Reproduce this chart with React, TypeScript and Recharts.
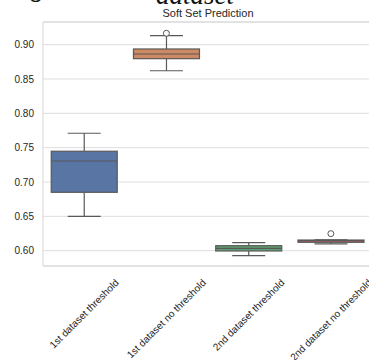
import React from 'react';
import {
  ComposedChart,
  Bar,
  Line,
  XAxis,
  YAxis,
  CartesianGrid,
  ReferenceArea,
} from 'recharts';

const categories = [
  '1st dataset threshold',
  '1st dataset no threshold',
  '2nd dataset threshold',
  '2nd dataset no threshold',
];
const whiskerLow = [0.65, 0.862, 0.5928, 0.6098];
const q1 = [0.685, 0.8796, 0.5996, 0.6122];
const median = [0.7306, 0.8864, 0.6035, 0.6146];
const q3 = [0.7448, 0.8937, 0.6073, 0.6155];
const whiskerHigh = [0.771, 0.9131, 0.6117, 0.6158];
const outliers: (number | null)[] = [null, 0.9166, null, 0.6248];
const yTicks = [0.6, 0.65, 0.7, 0.75, 0.8, 0.85, 0.9];
const boxColors = ['#5875a4', '#cc8963', '#5f9e6e', '#b55d60'];

const Y_DOMAIN: [number, number] = [0.5777, 0.933];
const FONT = '"Liberation Sans", Arial, sans-serif';
const LINE = '#595959';

const data = categories.map((name, i) => ({
  name,
  range: [whiskerLow[i], whiskerHigh[i]],
  whiskerLow: whiskerLow[i],
  q1: q1[i],
  median: median[i],
  q3: q3[i],
  whiskerHigh: whiskerHigh[i],
  outlier: outliers[i],
  color: boxColors[i],
}));

let ctx: CanvasRenderingContext2D | null = null;
const measure = (text: string, font: string) => {
  if (!ctx) ctx = document.createElement('canvas').getContext('2d');
  if (!ctx) return text.length * 5;
  ctx.font = font;
  return ctx.measureText(text).width;
};

// box + whiskers, positioned from the bar's whisker range
const BoxShape = (props: any) => {
  const { x, y, width, height, payload } = props;
  const top = Math.min(y, y + height);
  const bottom = Math.max(y, y + height);
  const hi = payload.whiskerHigh;
  const lo = payload.whiskerLow;
  const py = (v: number) => top + ((hi - v) / (hi - lo)) * (bottom - top);
  const cx = x + width / 2;
  const capW = width / 4;
  return (
    <g>
      <line x1={cx} x2={cx} y1={py(hi)} y2={py(payload.q3)} stroke={LINE} strokeWidth={1.2} />
      <line x1={cx} x2={cx} y1={py(payload.q1)} y2={py(lo)} stroke={LINE} strokeWidth={1.2} />
      <line x1={cx - capW} x2={cx + capW} y1={py(hi)} y2={py(hi)} stroke={LINE} strokeWidth={1.2} />
      <line x1={cx - capW} x2={cx + capW} y1={py(lo)} y2={py(lo)} stroke={LINE} strokeWidth={1.2} />
      <rect
        x={x}
        y={py(payload.q3)}
        width={width}
        height={py(payload.q1) - py(payload.q3)}
        fill={payload.color}
        stroke={LINE}
        strokeWidth={1.2}
      />
      <line x1={x} x2={x + width} y1={py(payload.median)} y2={py(payload.median)} stroke={LINE} strokeWidth={1.2} />
    </g>
  );
};

const OutlierDot = (props: any) => {
  const { cx, cy, payload, index } = props;
  if (payload.outlier == null || cy == null) return <g key={index} />;
  return <circle key={index} cx={cx} cy={cy} r={3} fill="#fff" stroke={LINE} strokeWidth={1} />;
};

const XTick = (props: any) => {
  const { x, y, payload } = props;
  const text = String(payload.value);
  const w = measure(text, `10px ${FONT}`);
  const cy = y + 11 + ((w + 11) * Math.SQRT1_2) / 2;
  return (
    <text
      x={x}
      y={cy}
      transform={`rotate(-45 ${x} ${cy})`}
      textAnchor="middle"
      dominantBaseline="central"
      fontSize={10}
      fontFamily={FONT}
      fill="#262626"
    >
      {text}
    </text>
  );
};

const App: React.FC = () => {
  return (
    <div style={{ position: 'fixed', left: 0, top: 0, width: 369, height: 360, overflow: 'hidden', background: '#fff' }}>
      <svg width={369} height={30} style={{ position: 'absolute', left: 0, top: 0 }}>
        <text x={38} y={-4} textAnchor="middle" fontSize={27} fontFamily='"Liberation Serif", serif' fontStyle="italic" fill="#111">
          g
        </text>
        <text x={195} y={4} textAnchor="middle" fontSize={27} fontFamily='"Liberation Serif", serif' fontStyle="italic" fill="#111">
          dataset
        </text>
        <text x={208} y={17} textAnchor="middle" fontSize={11} fontFamily={FONT} fill="#262626">
          Soft Set Prediction
        </text>
      </svg>
      <div style={{ position: 'absolute', left: 0, top: 0 }}>
        <ComposedChart
          width={380}
          height={360}
          data={data}
          margin={{ top: 22, right: 8, left: 0, bottom: 0 }}
          barCategoryGap="10%"
        >
          <CartesianGrid horizontal vertical={false} stroke="#dedede" strokeWidth={1} />
          <ReferenceArea y1={Y_DOMAIN[0]} y2={Y_DOMAIN[1]} fill="none" stroke="#d6d6d6" strokeWidth={1} ifOverflow="visible" />
          <XAxis
            dataKey="name"
            height={94}
            tickSize={0}
            tickMargin={0}
            axisLine={false}
            tickLine={false}
            interval={0}
            tick={<XTick />}
          />
          <YAxis
            width={43}
            domain={Y_DOMAIN}
            ticks={yTicks}
            allowDataOverflow
            tickSize={0}
            tickMargin={9}
            axisLine={false}
            tickLine={false}
            tickFormatter={(v: number) => v.toFixed(2)}
            tick={{ fontSize: 10, fontFamily: FONT, fill: '#262626' }}
          />
          <Bar dataKey="range" shape={<BoxShape />} isAnimationActive={false} />
          <Line
            dataKey="outlier"
            stroke="none"
            dot={<OutlierDot />}
            activeDot={false}
            isAnimationActive={false}
          />
        </ComposedChart>
      </div>
    </div>
  );
};

export default App;
